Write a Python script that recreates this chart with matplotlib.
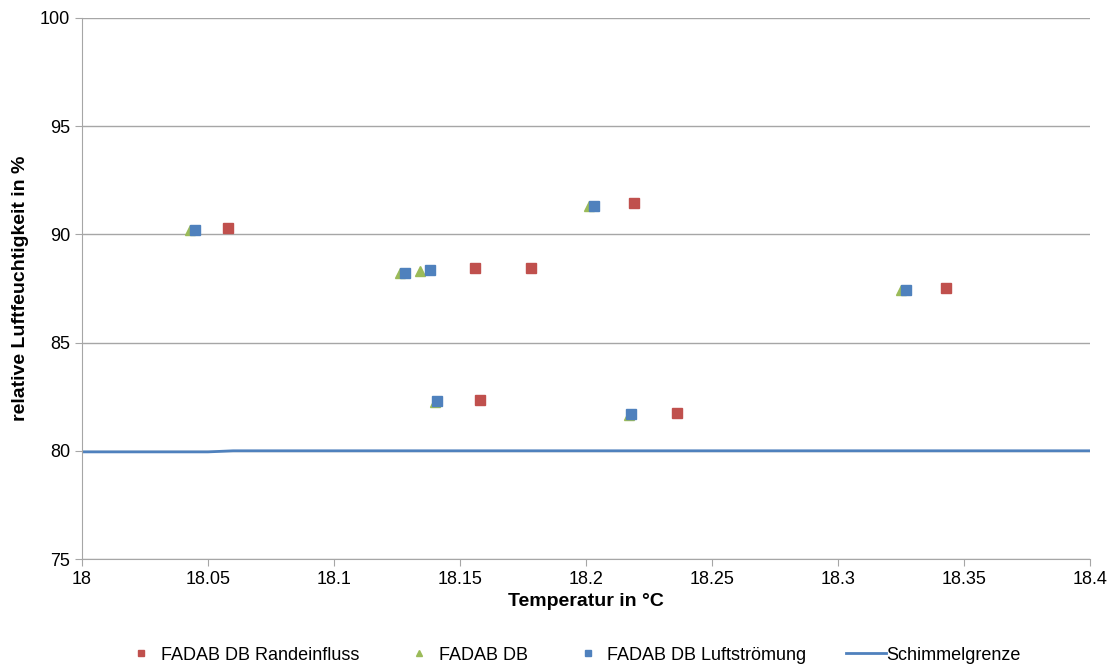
import matplotlib
matplotlib.use("Agg")
import matplotlib.pyplot as plt

plt.rcParams['font.family'] = ['Liberation Sans', 'DejaVu Sans']

# Data
rand_x = [18.058, 18.156, 18.178, 18.219, 18.343, 18.158, 18.236]
rand_y = [90.30, 88.45, 88.45, 91.45, 87.52, 82.35, 81.75]
db_x = [18.043, 18.126, 18.134, 18.201, 18.325, 18.140, 18.217]
db_y = [90.20, 88.20, 88.30, 91.30, 87.45, 82.25, 81.65]
luft_x = [18.045, 18.128, 18.138, 18.203, 18.327, 18.141, 18.218]
luft_y = [90.20, 88.20, 88.35, 91.30, 87.45, 82.30, 81.70]
grenze_x = [18.0, 18.05, 18.06, 18.4]
grenze_y = [79.95, 79.95, 80.0, 80.0]

xticks = [18.0, 18.05, 18.1, 18.15, 18.2, 18.25, 18.3, 18.35, 18.4]
xticklabels = ["18", "18.05", "18.1", "18.15", "18.2", "18.25", "18.3", "18.35", "18.4"]
yticks = [75, 80, 85, 90, 95, 100]

fig = plt.figure(figsize=(11.15, 6.68), dpi=100)
ax = fig.add_axes([82/1115, 1-559/668, (1090-82)/1115, (559-18)/668])

ax.plot(rand_x, rand_y, linestyle='none', marker='s', ms=6.5, color='#C0504D',
        markeredgecolor='#C0504D', label='FADAB DB Randeinfluss', zorder=3)
ax.plot(db_x, db_y, linestyle='none', marker='^', ms=7, color='#9BBB59',
        markeredgecolor='#9BBB59', label='FADAB DB', zorder=3)
ax.plot(luft_x, luft_y, linestyle='none', marker='s', ms=6.5, color='#4F81BD',
        markeredgecolor='#4F81BD', label='FADAB DB Luftströmung', zorder=4)
ax.plot(grenze_x, grenze_y, color='#4F81BD', lw=2, label='Schimmelgrenze', zorder=2)

ax.set_xlim(18.0, 18.4)
ax.set_ylim(75, 100)
ax.set_xticks(xticks)
ax.set_xticklabels(xticklabels)
ax.set_yticks(yticks)
ax.yaxis.grid(True, color='#A6A6A6', lw=1)
ax.set_axisbelow(True)
for s in ['top', 'right']:
    ax.spines[s].set_visible(False)
for s in ['left', 'bottom']:
    ax.spines[s].set_color('#A6A6A6')
ax.tick_params(axis='both', colors='#A6A6A6', labelcolor='black', labelsize=13, length=5, direction='out')

ax.set_xlabel('Temperatur in °C', fontsize=14, fontweight='bold', labelpad=4)
ax.set_ylabel('relative Luftfeuchtigkeit in %', fontsize=14, fontweight='bold', labelpad=8)

leg = fig.legend(loc='center', bbox_to_anchor=(0.512, 1-655/668), ncol=4, frameon=False,
                 fontsize=13, handlelength=2.2, columnspacing=2.2, handletextpad=0.0,
                 markerscale=0.7)

fig.savefig('out.png', dpi=100)
